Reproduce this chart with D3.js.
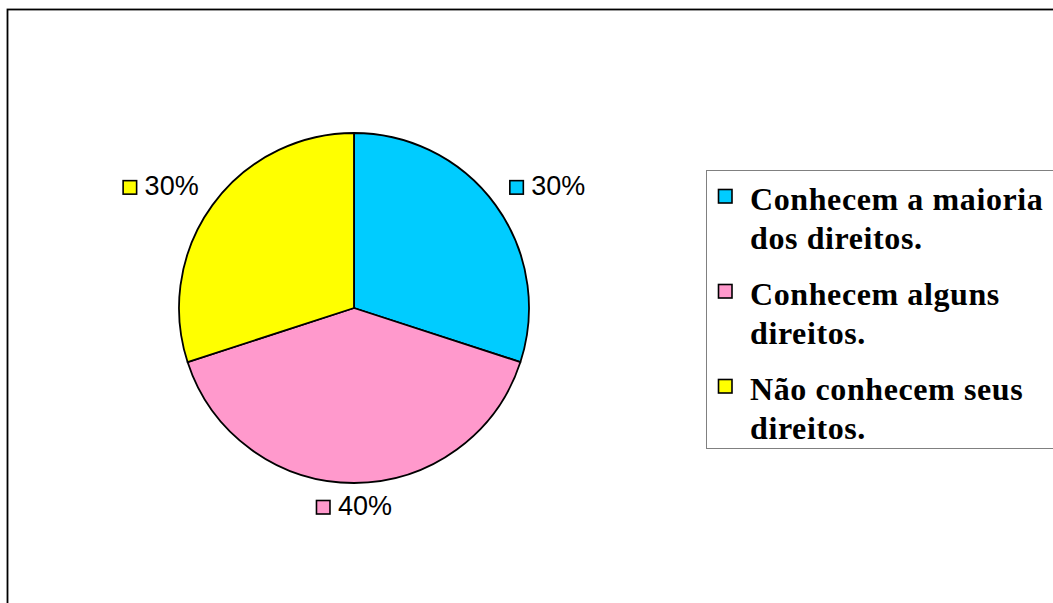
<!DOCTYPE html>
<html><head><meta charset="utf-8">
<script src="https://cdn.jsdelivr.net/npm/d3@7"></script>
<style>body{margin:0;background:#fff}svg{display:block}</style>
</head><body>
<svg id="c" width="1053" height="603"></svg>
<script>
const categories = ["Conhecem a maioria dos direitos.", "Conhecem alguns direitos.", "Não conhecem seus direitos."];
const legendLines = [["Conhecem a maioria", "dos direitos."], ["Conhecem alguns", "direitos."], ["Não conhecem seus", "direitos."]];
const values = [30, 40, 30];
const labels = ["30%", "40%", "30%"];
const colors = ["#00CCFF", "#FF99CC", "#FFFF00"];

const svg = d3.select("#c");
svg.append("rect").attr("x", 7.5).attr("y", 9.5).attr("width", 1200).attr("height", 800)
  .attr("fill", "#fff").attr("stroke", "#000").attr("stroke-width", 1.8);

const cx = 354, cy = 308, r = 175;
const pie = d3.pie().sort(null).value(d => d)(values);
const arc = d3.arc().innerRadius(0).outerRadius(r);
const g = svg.append("g").attr("transform", `translate(${cx},${cy})`);
g.selectAll("path").data(pie).join("path")
  .attr("d", arc).attr("fill", (d, i) => colors[i])
  .attr("stroke", "#000").attr("stroke-width", 1.8).attr("stroke-linejoin", "round");

// data labels: inner corner of label box sits on the mid-angle ray at radius r0
const r0 = 192, fs = 27;
pie.forEach((d, i) => {
  const a = (d.startAngle + d.endAngle) / 2;
  const sx = Math.sin(a), sy = -Math.cos(a);
  const px = cx + sx * r0, py = cy + sy * r0;
  const lg = svg.append("g");
  lg.append("rect").attr("x", 0.5).attr("y", 0.5).attr("width", 13.5).attr("height", 13.5)
    .attr("fill", colors[i]).attr("stroke", "#000").attr("stroke-width", 1.6);
  const t = lg.append("text").attr("x", 22).attr("y", 15)
    .attr("font-family", "Liberation Sans, Arial, sans-serif").attr("font-size", fs)
    .attr("fill", "#000").text(labels[i]);
  const w = 22 + t.node().getComputedTextLength(), h = 15;
  let gx = sx > 0.1 ? px : (sx < -0.1 ? px - w : px - w / 2);
  let gy = sy < 0 ? py - h : py;
  lg.attr("transform", `translate(${gx},${gy})`);
});

// legend
svg.append("rect").attr("x", 706.5).attr("y", 170.5).attr("width", 500).attr("height", 278)
  .attr("fill", "#fff").attr("stroke", "#808080").attr("stroke-width", 1);
const itemY = [210, 305, 400];
legendLines.forEach((lines, i) => {
  const y0 = itemY[i];
  svg.append("rect").attr("x", 718.5).attr("y", y0 - 20.5).attr("width", 13.5).attr("height", 13.5)
    .attr("fill", colors[i]).attr("stroke", "#000").attr("stroke-width", 1.6);
  lines.forEach((t, j) => {
    svg.append("text").attr("x", 750).attr("y", y0 + j * 39)
      .attr("font-family", "Liberation Serif, Times New Roman, serif").attr("font-weight", "bold")
      .attr("font-size", 32).attr("letter-spacing", 0.6).attr("fill", "#000").text(t);
  });
});
</script>
</body></html>
